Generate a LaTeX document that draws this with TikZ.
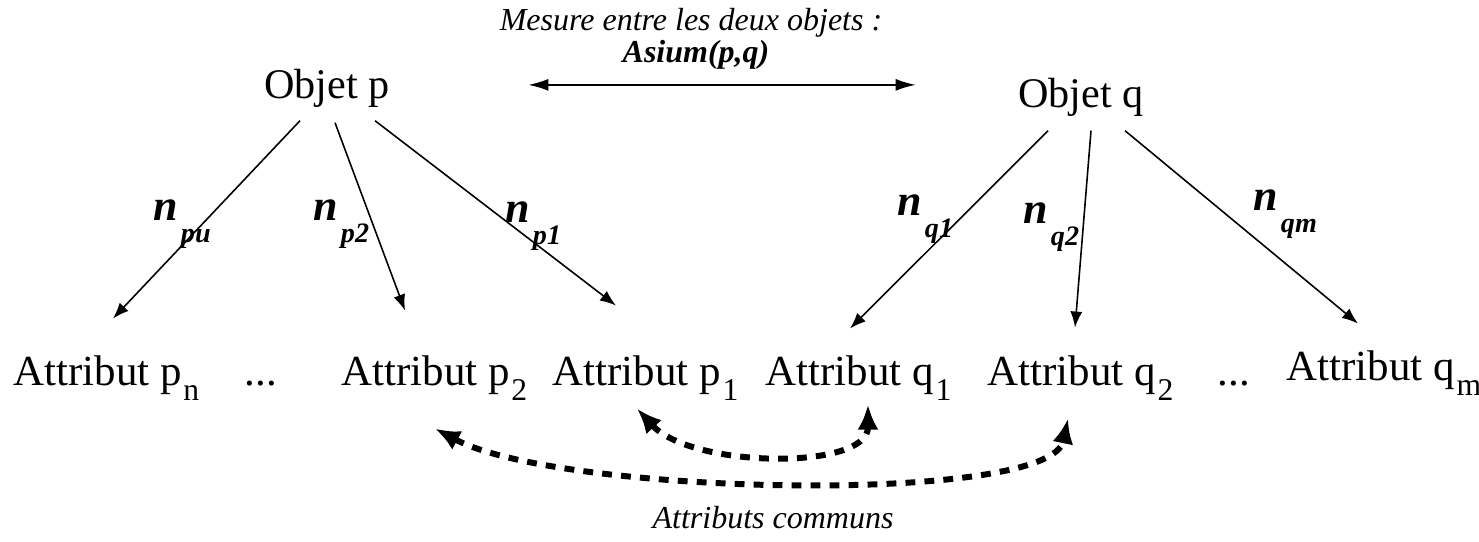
\documentclass[tikz,border=0pt]{standalone}
\usepackage{fontspec}
\setmainfont{Liberation Serif}
\usetikzlibrary{arrows.meta}

\newcommand{\bas}[1]{\kern0.5pt\raisebox{-4.5pt}{\fontsize{9}{9}\selectfont #1}}
\newcommand{\poids}[1]{n\kern0.8pt\raisebox{-6.5pt}{\fontsize{8}{8}\selectfont #1}}

\begin{document}
\begin{tikzpicture}[x=0.01cm,y=-0.01cm,
	every node/.style={inner sep=0pt},
	objet/.style={font=\fontsize{12}{14}\selectfont, anchor=base},
	attribut/.style={font=\fontsize{12.2}{15}\selectfont, anchor=base west},
	poids/.style={font=\fontsize{12.5}{14}\selectfont\bfseries\itshape, anchor=base west},
	note/.style={font=\fontsize{9.1}{11}\selectfont\itshape, anchor=base},
	lien/.style={line width=0.45pt, -{Latex[length=1.6mm,width=1.2mm]}},
	mesure/.style={line width=0.45pt, {Latex[length=2mm,width=1.2mm]}-{Latex[length=2mm,width=1.2mm]}},
	commun/.style={line width=1.7pt, dash pattern=on 2.8pt off 2.6pt, {Latex[length=2.5mm,width=2.1mm]}-{Latex[length=2.5mm,width=2.1mm]}}]
	\useasboundingbox (0,0) rectangle (1479,541);
	% objets et mesure
	\node[note] (texte) at (691,30) {Mesure entre les deux objets :};
	\node[note, font=\fontsize{9.1}{11}\selectfont\bfseries\itshape] (asium) at (696,62) {Asium(p,q)};
	\node[objet] (objp) at (327,98) {Objet p};
	\node[objet] (objq) at (1081,107) {Objet q};
	\draw[mesure] ([shift={(138,-3)}]objp.east) -- ([shift={(-102,-12)}]objq.west);
	% attributs
	\node[attribut] (attpn) at (13,385) {Attribut p\bas{n}};
	\node[attribut] (dotsp) at (244,385) {...};
	\node[attribut] (attp2) at (341,385) {Attribut p\bas{2}};
	\node[attribut] (attp1) at (552,385) {Attribut p\bas{1}};
	\node[attribut] (attq1) at (765,385) {Attribut q\bas{1}};
	\node[attribut] (attq2) at (987,385) {Attribut q\bas{2}};
	\node[attribut] (dotsq) at (1217,385) {...};
	\node[attribut] (attqm) at (1286,380) {Attribut q\bas{m}};
	% poids des liens
	\node[poids] (npn) at (153,220) {\poids{pu}};
	\node[poids] (np2) at (313,220) {\poids{p2}};
	\node[poids] (np1) at (505,222) {\poids{p1}};
	\node[poids] (nq1) at (897,215) {\poids{q1}};
	\node[poids] (nq2) at (1023,223) {\poids{q2}};
	\node[poids] (nqm) at (1253,210) {\poids{qm}};
	% liens objet -> attribut
	\draw[lien] ([shift={(-27,13)}]objp.south) -- ([shift={(100,-36)}]attpn.north west);
	\draw[lien] ([shift={(8,15)}]objp.south) -- ([shift={(64,-44)}]attp2.north west);
	\draw[lien] ([shift={(48,13)}]objp.south) -- ([shift={(64,-49)}]attp1.north west);
	\draw[lien] ([shift={(-33,14)}]objq.south) -- ([shift={(85,-26)}]attq1.north west);
	\draw[lien] ([shift={(10,14)}]objq.south) -- ([shift={(88,-27)}]attq2.north west);
	\draw[lien] ([shift={(44,14)}]objq.south) -- ([shift={(72,-26)}]attqm.north west);
	% attributs communs
	\draw[commun] ([shift={(85,7)}]attp1.south west) .. controls +(55,60) and +(0,66) .. ([shift={(103,3)}]attq1.south west);
	\draw[commun] ([shift={(94,27)}]attp2.south west) .. controls +(125,67) and +(-18,87) .. ([shift={(81,17)}]attq2.south west);
	\node[note] (communs) at (773,528) {Attributs communs};
\end{tikzpicture}
\end{document}
